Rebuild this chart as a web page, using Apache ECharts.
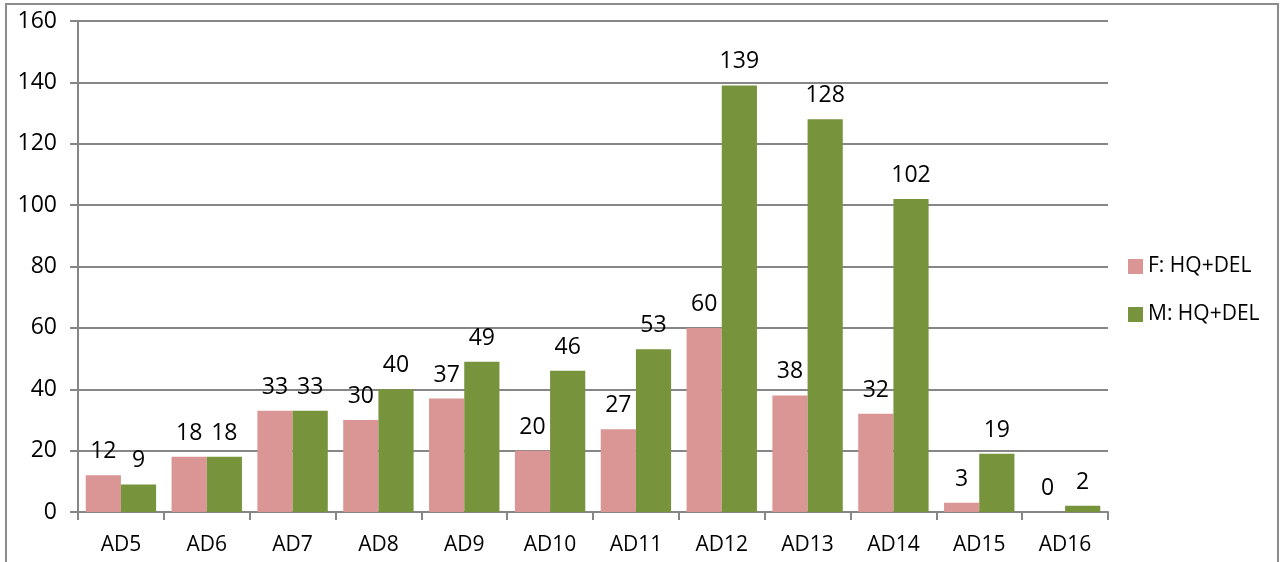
<!DOCTYPE html>
<html>
<head>
<meta charset="utf-8">
<script src="https://cdn.jsdelivr.net/npm/echarts@6/dist/echarts.min.js"></script>
<style>
  html, body { margin: 0; padding: 0; background: #fff; }
  #chart { width: 1282px; height: 562px; }
</style>
</head>
<body>
<div id="chart"></div>
<script>
// data
var categories = ['AD5', 'AD6', 'AD7', 'AD8', 'AD9', 'AD10', 'AD11', 'AD12', 'AD13', 'AD14', 'AD15', 'AD16'];
var femaleValues = [12, 18, 33, 30, 37, 20, 27, 60, 38, 32, 3, 0];
var maleValues = [9, 18, 33, 40, 49, 46, 53, 139, 128, 102, 19, 2];
var seriesNames = ['F: HQ+DEL', 'M: HQ+DEL'];

var font = 'Open Sans';
var gray = '#868686';

var chart = echarts.init(document.getElementById('chart'));

var labelStyle = {
  show: true,
  position: 'top',
  distance: 12,
  color: '#000',
  fontFamily: font,
  fontSize: 23
};

chart.setOption({
  animation: false,
  graphic: [{
    type: 'rect',
    shape: { x: 6, y: 4, width: 1272, height: 700 },
    style: { fill: 'none', stroke: '#8c8c8c', lineWidth: 2 },
    silent: true
  }],
  grid: { left: 78, right: 174, top: 21, bottom: 50 },
  legend: {
    orient: 'vertical',
    left: 1123,
    top: 251,
    itemWidth: 15,
    itemHeight: 15,
    itemGap: 27,
    icon: 'rect',
    textStyle: { fontFamily: font, fontSize: 21, color: '#000' },
    data: seriesNames
  },
  xAxis: {
    type: 'category',
    data: categories,
    axisLine: { lineStyle: { color: gray, width: 2 } },
    axisTick: { show: true, length: 8, lineStyle: { color: gray, width: 2 } },
    axisLabel: { color: '#000', fontFamily: font, fontSize: 21, margin: 23 }
  },
  yAxis: {
    type: 'value',
    min: 0,
    max: 160,
    interval: 20,
    axisLine: { show: true, lineStyle: { color: gray, width: 2 } },
    axisTick: { show: true, length: 8, lineStyle: { color: gray, width: 2 } },
    axisLabel: { color: '#000', fontFamily: font, fontSize: 23, margin: 21 },
    splitLine: { lineStyle: { color: gray, width: 2 } }
  },
  series: [
    {
      name: seriesNames[0],
      type: 'bar',
      data: femaleValues,
      barGap: '0%',
      barCategoryGap: '18%',
      itemStyle: { color: '#D99694' },
      label: labelStyle
    },
    {
      name: seriesNames[1],
      type: 'bar',
      data: maleValues,
      itemStyle: { color: '#77933C' },
      label: labelStyle
    }
  ]
});
</script>
</body>
</html>
